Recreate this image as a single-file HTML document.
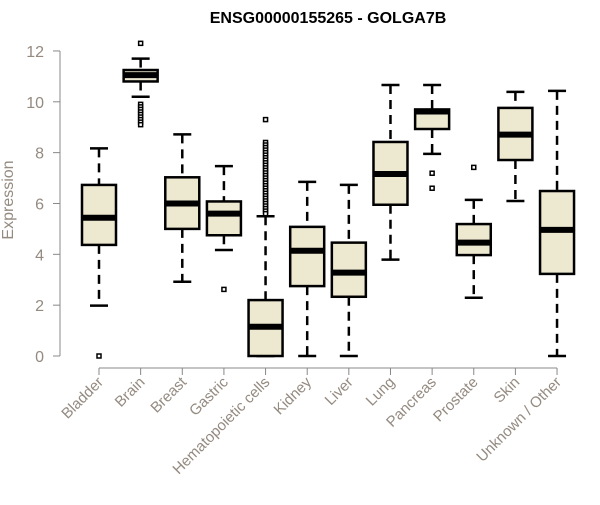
<!DOCTYPE html>
<html><head><meta charset="utf-8"><style>
body{margin:0;background:#fff;}
svg text{font-family:"Liberation Sans",Arial,sans-serif;}
</style></head><body>
<svg id="chart" width="600" height="500" viewBox="0 0 600 500">
<text x="328" y="23" text-anchor="middle" font-size="16" font-weight="bold" fill="#000">ENSG00000155265 - GOLGA7B</text>
<text transform="translate(13,200) rotate(-90)" text-anchor="middle" font-size="16" fill="#948a80">Expression</text>
<g id="plot"></g>
</svg>
<script>
const categories=["Bladder","Brain","Breast","Gastric","Hematopoietic cells","Kidney","Liver","Lung","Pancreas","Prostate","Skin","Unknown / Other"];
const whiskerLow=[1.98,10.2,2.92,4.17,0,0,0,3.79,7.95,2.29,6.1,0];
const q1=[4.37,10.8,5.0,4.75,0,2.75,2.33,5.95,8.93,3.97,7.71,3.23];
const median=[5.44,11.05,6.0,5.6,1.15,4.14,3.28,7.16,9.62,4.46,8.71,4.96];
const q3=[6.73,11.25,7.03,6.08,2.2,5.08,4.46,8.42,9.7,5.19,9.76,6.49];
const whiskerHigh=[8.17,11.7,8.72,7.47,5.5,6.85,6.73,10.66,10.66,6.14,10.39,10.43];
const outliers=[[0],[12.3,9.9,9.8,9.7,9.6,9.5,9.4,9.3,9.2,9.1],[],[2.62],[9.3,8.4,8.3,8.2,8.1,8.0,7.9,7.8,7.7,7.6,7.5,7.4,7.3,7.2,7.1,7.0,6.9,6.8,6.7,6.6,6.5,6.4,6.3,6.2,6.1,6.0,5.9,5.8,5.7,5.6],[],[],[],[7.19,6.6],[7.42],[],[]];
const yTicks=[0,2,4,6,8,10,12];
const NS="http://www.w3.org/2000/svg";
const g=document.getElementById('plot');
const y=v=>356-v*25.42;
const x=i=>99+i*41.64;
const txtCol='#948a80';
function el(t,a){const e=document.createElementNS(NS,t);for(const k in a)e.setAttribute(k,a[k]);g.appendChild(e);return e;}
let ax=el('line',{x1:60,x2:60,y1:y(0),y2:y(12),stroke:'#888'});


yTicks.forEach(t=>{
  let l=el('line',{x1:53,x2:60,y1:y(t),y2:y(t),stroke:'#888'});
  
  
  let tx=el('text',{x:44,y:y(t)+6,'text-anchor':'end','font-size':16,fill:txtCol});
  tx.textContent=t;
  
  
});
let xa=el('line',{x1:x(0),x2:x(categories.length-1),y1:368,y2:368,stroke:'#888'});


categories.forEach((c,i)=>{
  const cx=x(i),hw=17;
  let tk=el('line',{x1:cx,x2:cx,y1:368,y2:375,stroke:'#888'});
  
  
  let lab=el('text',{x:cx+5,y:383,'text-anchor':'end','font-size':15,fill:txtCol,transform:`rotate(-45 ${cx+5} 383)`});
  lab.textContent=c;
  
  
  let w1=el('line',{x1:cx,x2:cx,y1:y(whiskerHigh[i]),y2:y(q3[i]),stroke:'#000','stroke-width':2.5,'stroke-dasharray':'9,6'});
  
  
  let w2=el('line',{x1:cx,x2:cx,y1:y(q1[i]),y2:y(whiskerLow[i]),stroke:'#000','stroke-width':2.5,'stroke-dasharray':'9,6'});
  
  
  let c1=el('line',{x1:cx-9,x2:cx+9,y1:y(whiskerHigh[i]),y2:y(whiskerHigh[i]),stroke:'#000','stroke-width':2.5});
  
  
  let c2=el('line',{x1:cx-9,x2:cx+9,y1:y(whiskerLow[i]),y2:y(whiskerLow[i]),stroke:'#000','stroke-width':2.5});
  
  
  let b=el('rect',{x:cx-hw,y:y(q3[i]),width:hw*2,height:y(q1[i])-y(q3[i]),fill:'#ede8d0',stroke:'#000','stroke-width':2.5});
  
  
  let m=el('line',{x1:cx-hw,x2:cx+hw,y1:y(median[i]),y2:y(median[i]),stroke:'#000','stroke-width':6});
  
  
  outliers[i].forEach(o=>{
    let p=el('rect',{x:cx-2,y:y(o)-2,width:4,height:4,fill:'#fff',stroke:'#000','stroke-width':1.5});
    
    
  });
});
</script>
</body></html>
